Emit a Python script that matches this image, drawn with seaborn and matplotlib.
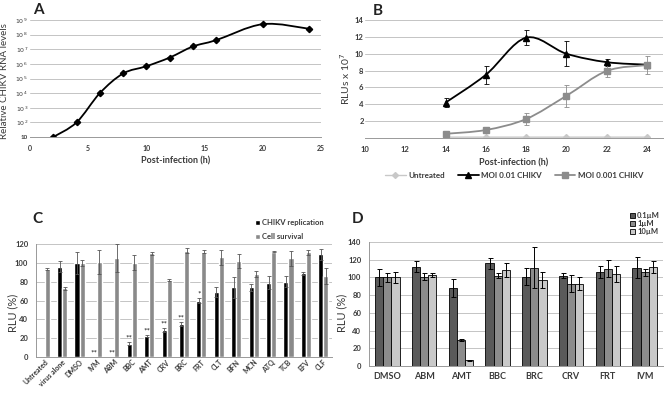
import matplotlib

matplotlib.use("Agg")
import matplotlib.pyplot as plt
import numpy as np
import pandas as pd
import seaborn as sns
from matplotlib.lines import Line2D
from matplotlib.patches import PathPatch
from matplotlib.path import Path


# Panel A: RNA levels over time
A_HOURS = [2, 4, 6, 8, 10, 12, 14, 16, 20, 24]
A_RNA = [1e1, 1e2, 1e4, 2.2e5, 6.9e5, 2.7e6, 1.55e7, 4.2e7, 5.2e8, 2.5e8]

# Panel B: luciferase time course
B_HOURS = [14, 16, 18, 20, 22, 24]
B_UNTREATED = [0.1, 0.1, 0.1, 0.1, 0.1, 0.1]
B_MOI_01 = [4.2, 7.5, 11.9, 10.0, 9.0, 8.7]
B_MOI_01_ERR = [0.5, 1.05, 0.9, 1.5, 0.4, 0.3]
B_MOI_001 = [0.5, 0.95, 2.25, 5.0, 7.95, 8.65]
B_MOI_001_ERR = [0.15, 0.3, 0.7, 1.3, 0.7, 1.1]
B_SERIES = ["Untreated", "MOI 0.01 CHIKV", "MOI 0.001 CHIKV"]

# Panel C: drug screen
C_LABELS = ["Untreated", "virus alone", "DMSO", "IVM", "ABM", "BBC", "AMT", "CRV",
            "BRC", "FRT", "CLT", "BFN", "MCN", "ATQ", "TCB", "EFV", "CLF"]
C_REPLICATION = [0, 96, 100, 0, 0, 14, 22.5, 29, 35, 60, 69, 74, 74, 79, 80, 89, 109]
C_REPLICATION_ERR = [0, 6, 12, 0, 0, 1.5, 1, 2, 2, 3, 5, 11, 4, 7, 6, 1.5, 6]
C_SURVIVAL = [93, 73, 100, 101, 105, 100, 110, 82, 113, 112, 106, 102, 88, 112, 105, 111, 86]
C_SURVIVAL_ERR = [1, 1.5, 3, 13, 15, 8, 2, 1, 2.5, 2, 8, 7, 3, 0.5, 8, 3, 8]
C_SIG = ["", "", "", "**", "**", "**", "**", "**", "**", "*", "", "", "", "", "", "", ""]
C_SERIES = ["CHIKV replication", "Cell survival"]

# Panel D: dose response
D_LABELS = ["DMSO", "ABM", "AMT", "BBC", "BRC", "CRV", "FRT", "IVM"]
D_01 = [100, 112, 88, 116, 101, 102, 106, 111]
D_01_ERR = [10, 6, 10, 6, 10, 3, 7, 12]
D_1 = [100, 101, 29, 102, 111, 93, 110, 106]
D_1_ERR = [5, 4, 1, 3, 23, 10, 10, 4]
D_10 = [100, 103, 6.5, 108, 97, 93, 104, 112]
D_10_ERR = [6, 2, 0.5, 8, 9, 7, 9, 7]
D_SERIES = ["0.1µM", "1µM", "10µM"]

W, H = 668, 394
GRID = "#c4c4c4"
TXT = "#3a3a3a"


def box(left, top, right, bottom):
    return [left / W, 1 - bottom / H, (right - left) / W, (bottom - top) / H]


def smooth_path(x, y, k=1 / 6):
    px = np.r_[x[0], x, x[-1]].astype(float)
    py = np.r_[y[0], y, y[-1]].astype(float)
    verts = [(px[1], py[1])]
    for i in range(1, len(px) - 2):
        c1 = (px[i] + (px[i + 1] - px[i - 1]) * k, py[i] + (py[i + 1] - py[i - 1]) * k)
        c2 = (px[i + 1] - (px[i + 2] - px[i]) * k, py[i + 1] - (py[i + 2] - py[i]) * k)
        verts += [c1, c2, (px[i + 1], py[i + 1])]
    codes = [Path.MOVETO] + [Path.CURVE4] * (len(verts) - 1)
    return np.array(verts), codes


def style_axis(ax, tick_size):
    ax.tick_params(labelsize=tick_size, colors=TXT, length=2, width=0.6)
    for lab in ax.get_xticklabels() + ax.get_yticklabels():
        lab.set_fontweight("bold")
    for side in ["top", "right", "left"]:
        ax.spines[side].set_visible(False)
    ax.spines["bottom"].set_color("#999999")
    ax.spines["bottom"].set_linewidth(0.7)
    ax.grid(axis="y", color=GRID, linewidth=0.7)
    ax.grid(axis="x", visible=False)
    ax.set_axisbelow(True)


def panel_a(fig):
    ax = fig.add_axes(box(30, 20, 321, 137))
    ax.set_yscale("log")
    verts, codes = smooth_path(np.array(A_HOURS), np.log10(A_RNA))
    verts[:, 1] = 10 ** verts[:, 1]
    ax.add_patch(PathPatch(Path(verts, codes), fill=False, edgecolor="black", linewidth=1.3))
    ax.plot(A_HOURS, A_RNA, linestyle="none", marker="D", markersize=3.2, color="black")
    ax.set_xlim(0, 25)
    ax.set_ylim(1e1, 1e9)
    ax.set_xticks([0, 5, 10, 15, 20, 25])
    ticks = [10.0 ** n for n in range(1, 10)]
    ax.set_yticks(ticks)
    ax.set_yticklabels(["10"] + [r"$10^{%d}$" % n for n in range(2, 10)])
    ax.yaxis.set_minor_locator(matplotlib.ticker.NullLocator())
    style_axis(ax, 5)
    ax.tick_params(axis="y", length=0, labelsize=4.5, pad=1.5)
    ax.set_xlabel("Post-infection (h)", fontsize=6.5, color=TXT, fontweight="bold")
    ax.xaxis.set_label_coords(0.5, -0.17)
    ax.set_ylabel("Relative CHIKV RNA levels", fontsize=7, color=TXT)
    ax.yaxis.set_label_coords(-0.072, 0.48)
    fig.text(33 / W, 1 - 3 / H, "A", fontsize=11, fontweight="bold", va="top", color="#222")


def panel_b(fig):
    ax = fig.add_axes(box(365, 20, 663, 138))
    specs = [
        (B_UNTREATED, None, "#c8c8c8", "D", 3, 1.0),
        (B_MOI_01, B_MOI_01_ERR, "black", "^", 4.5, 1.3),
        (B_MOI_001, B_MOI_001_ERR, "#8c8c8c", "s", 5, 1.3),
    ]
    handles = []
    for name, (vals, err, color, marker, ms, lw) in zip(B_SERIES, specs):
        verts, codes = smooth_path(np.array(B_HOURS), np.array(vals))
        ax.add_patch(PathPatch(Path(verts, codes), fill=False, edgecolor=color, linewidth=lw))
        ax.errorbar(B_HOURS, vals, yerr=err, fmt=marker, markersize=ms, color=color,
                    ecolor=color, elinewidth=0.6, capsize=1.8, capthick=0.6)
        handles.append(Line2D([], [], color=color, marker=marker, markersize=ms, linewidth=lw))
    ax.set_xlim(10, 24.8)
    ax.set_ylim(0, 14)
    ax.set_xticks(range(10, 25, 2))
    ax.set_yticks(range(2, 15, 2))
    style_axis(ax, 5.5)
    ax.tick_params(axis="y", length=0, pad=1)
    ax.set_xlabel("Post-infection (h)", fontsize=6.5, color=TXT, fontweight="bold")
    ax.xaxis.set_label_coords(0.5, -0.17)
    ax.set_ylabel(r"RLUs x 10$^7$", fontsize=7.5, color=TXT)
    ax.yaxis.set_label_coords(-0.045, 0.5)
    leg = ax.legend(handles, B_SERIES, loc="center", bbox_to_anchor=(0.5, -0.32), ncol=3,
                    frameon=False, fontsize=5.8, handlelength=2.6, columnspacing=1.6,
                    handletextpad=0.3)
    for t in leg.get_texts():
        t.set_color(TXT)
        t.set_fontweight("bold")
    fig.text(373 / W, 1 - 4 / H, "B", fontsize=11, fontweight="bold", va="top", color="#222")


def add_errors(ax, errs, color, lw, cap):
    for cont, err in zip(ax.containers, errs):
        xs = np.array([b.get_x() + b.get_width() / 2 for b in cont])
        ys = np.array([b.get_height() for b in cont])
        err = np.array(err, dtype=float)
        keep = err > 0
        ax.errorbar(xs[keep], ys[keep], yerr=err[keep], fmt="none", ecolor=color,
                    elinewidth=lw, capsize=cap, capthick=lw)


def panel_c(fig):
    ax = fig.add_axes(box(36, 244, 332, 357))
    df = pd.DataFrame({
        "drug": C_LABELS * 2,
        "series": [C_SERIES[0]] * len(C_LABELS) + [C_SERIES[1]] * len(C_LABELS),
        "value": C_REPLICATION + C_SURVIVAL,
    })
    sns.barplot(data=df, x="drug", y="value", hue="series", order=C_LABELS,
                hue_order=C_SERIES, palette=["black", "#8a8a8a"], width=0.58,
                errorbar=None, saturation=1, ax=ax)
    add_errors(ax, [C_REPLICATION_ERR, C_SURVIVAL_ERR], "#555555", 0.6, 1.5)
    rep_bars = ax.containers[0]
    for bar, sig, err in zip(rep_bars, C_SIG, C_REPLICATION_ERR):
        if sig:
            ax.text(bar.get_x() + bar.get_width() / 2, bar.get_height() + err + 0.5, sig,
                    ha="center", va="bottom", fontsize=6, color="#222")
    ax.set_xlim(-0.5, len(C_LABELS) - 0.5)
    ax.set_ylim(0, 120)
    ax.set_yticks(range(0, 121, 20))
    style_axis(ax, 5.5)
    ax.spines["left"].set_visible(True)
    ax.spines["left"].set_color("#999999")
    ax.spines["left"].set_linewidth(0.7)
    ax.tick_params(axis="x", length=0, labelsize=5, pad=1)
    plt.setp(ax.get_xticklabels(), rotation=45, ha="right", rotation_mode="anchor")
    ax.set_xlabel("")
    ax.set_ylabel("RLU (%)", fontsize=8, color=TXT)
    ax.yaxis.set_label_coords(-0.061, 0.39)
    h, l = ax.get_legend_handles_labels()
    leg = ax.legend(h, l, loc="lower right", bbox_to_anchor=(0.985, 1.0), frameon=False,
                    fontsize=5.5, handlelength=0.6, handleheight=0.6, handletextpad=0.3,
                    labelspacing=0.9, borderaxespad=0.1)
    for t in leg.get_texts():
        t.set_color(TXT)
        t.set_fontweight("bold")
    fig.text(32 / W, 1 - 212 / H, "C", fontsize=11, fontweight="bold", va="top", color="#222")


def panel_d(fig):
    ax = fig.add_axes(box(369, 242, 663, 366))
    df = pd.DataFrame({
        "drug": D_LABELS * 3,
        "dose": [s for s in D_SERIES for _ in D_LABELS],
        "value": D_01 + D_1 + D_10,
    })
    sns.barplot(data=df, x="drug", y="value", hue="dose", order=D_LABELS,
                hue_order=D_SERIES, palette=["#5a5a5a", "#8c8c8c", "#c9c9c9"],
                width=0.66, errorbar=None, saturation=1, edgecolor="black",
                linewidth=0.6, ax=ax)
    add_errors(ax, [D_01_ERR, D_1_ERR, D_10_ERR], "black", 0.7, 1.8)
    ax.set_xlim(-0.5, len(D_LABELS) - 0.5)
    ax.set_ylim(0, 140)
    ax.set_yticks(range(0, 141, 20))
    style_axis(ax, 5.5)
    ax.spines["left"].set_visible(True)
    ax.spines["left"].set_color("#999999")
    ax.spines["left"].set_linewidth(0.7)
    ax.tick_params(axis="x", length=0, labelsize=6.5, pad=4)
    ax.set_xlabel("")
    ax.set_ylabel("RLU (%)", fontsize=8, color=TXT)
    ax.yaxis.set_label_coords(-0.075, 0.43)
    h, l = ax.get_legend_handles_labels()
    leg = ax.legend(h, l, loc="lower right", bbox_to_anchor=(1.0, 1.03), frameon=False,
                    fontsize=5.5, handlelength=0.6, handleheight=0.6, handletextpad=0.3,
                    labelspacing=0.15, borderaxespad=0.0)
    for t in leg.get_texts():
        t.set_color(TXT)
        t.set_fontweight("bold")
    fig.text(352 / W, 1 - 212 / H, "D", fontsize=11, fontweight="bold", va="top", color="#222")


def main():
    sns.set_theme(style="white")
    plt.rcParams["font.family"] = ["Lato", "DejaVu Sans"]
    plt.rcParams["mathtext.fontset"] = "dejavusans"
    fig = plt.figure(figsize=(W / 100, H / 100), dpi=100)
    fig.patch.set_facecolor("white")
    panel_a(fig)
    panel_b(fig)
    panel_c(fig)
    panel_d(fig)
    fig.savefig("out.png", dpi=100)
    plt.close(fig)


if __name__ == "__main__":
    main()
